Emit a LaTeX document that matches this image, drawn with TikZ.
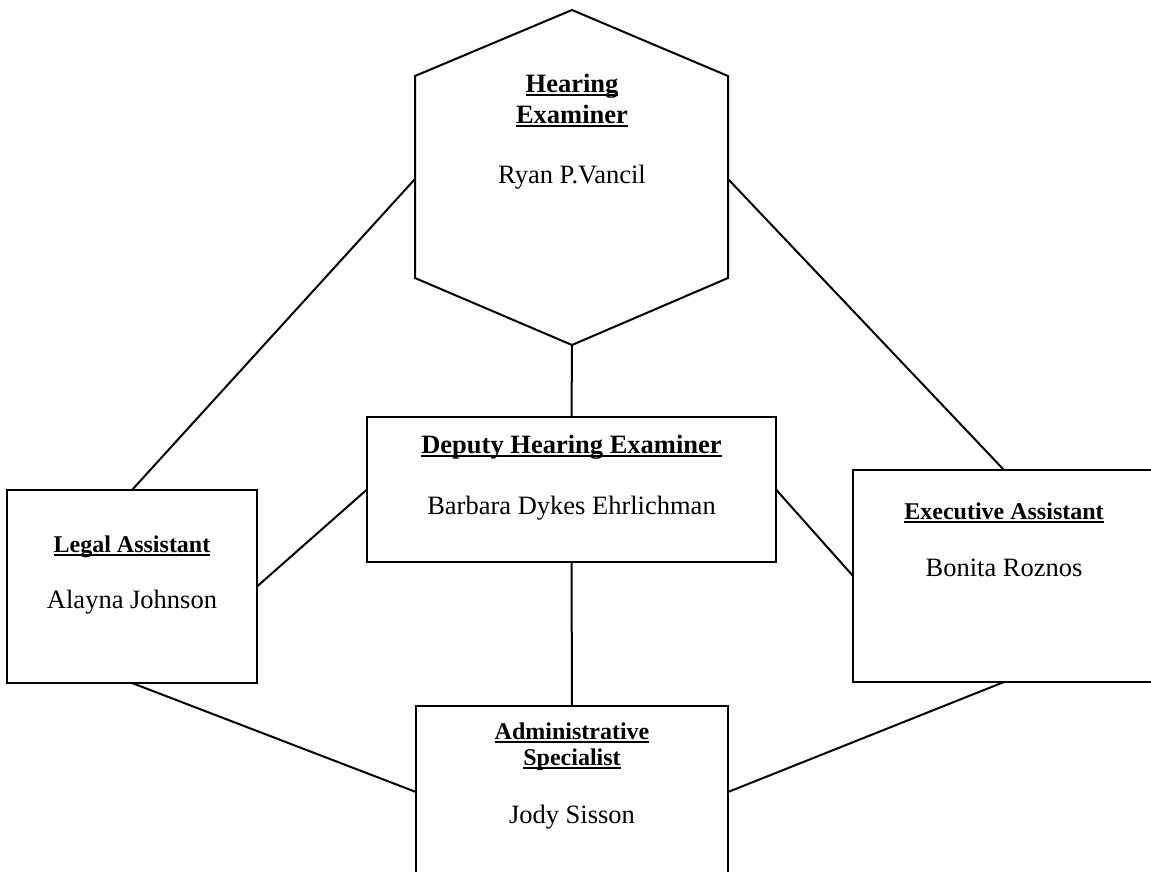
\documentclass[tikz,border=0pt]{standalone}
\usepackage{fontspec}
\setmainfont{Liberation Serif}
\newcommand{\uword}[1]{\setbox0\hbox{#1}\rlap{\rule[-4pt]{\wd0}{2.2pt}}\box0}
\tikzset{
  post/.style={draw, line width=2pt, inner sep=0pt, outer sep=0pt},
  link/.style={line width=2pt},
  title/.style={font=\bfseries\fontsize{24}{26}\selectfont, anchor=base},
  bigtitle/.style={font=\bfseries\fontsize{26.5}{31}\selectfont, anchor=base},
  holder/.style={font=\fontsize{26.5}{31}\selectfont, anchor=base}
}

\begin{document}
\begin{tikzpicture}[x=1pt, y=-1pt]
  \useasboundingbox (0,0) rectangle (1151,871);

  % hexagon
  \coordinate (hexT)  at (572,10);
  \coordinate (hexUR) at (728,76);
  \coordinate (hexLR) at (728,278);
  \coordinate (hexB)  at (572,345);
  \coordinate (hexLL) at (415,278);
  \coordinate (hexUL) at (415,76);
  \coordinate (hexL)  at (415,179);
  \coordinate (hexR)  at (728,179);
  \draw[link, line join=miter] (hexT) -- (hexUR) -- (hexLR) -- (hexB)
       -- (hexLL) -- (hexUL) -- cycle;

  % boxes
  \node[post, minimum width=409, minimum height=145] (deputy) at (571.5,489.5) {};
  \node[post, minimum width=250, minimum height=193] (legal)  at (132,586.5) {};
  \node[post, minimum width=302, minimum height=212] (exec)   at (1004,576) {};
  \node[post, minimum width=312, minimum height=172] (admin)  at (572,792) {};

  % texts
  \node[bigtitle] (hexHead1) at (572,92)  {\uword{Hearing}};
  \node[bigtitle] (hexHead2) at (572,123) {\uword{Examiner}};
  \node[holder]   (hexName)  at (572,183) {Ryan P.Vancil};

  \node[bigtitle] (deputyHead) at (571.5,453) {\uword{Deputy Hearing Examiner}};
  \node[holder]   (deputyName) at (571.5,514) {Barbara Dykes Ehrlichman};

  \node[title]  (legalHead) at (132,552) {\uword{Legal Assistant}};
  \node[holder] (legalName) at (132,608) {Alayna Johnson};

  \node[title]  (execHead) at (1004,519) {\uword{Executive Assistant}};
  \node[holder] (execName) at (1004,576) {Bonita Roznos};

  \node[title]  (adminHead1) at (572,739) {\uword{Administrative}};
  \node[title]  (adminHead2) at (572,765) {\uword{Specialist}};
  \node[holder] (adminName)  at (572,823) {Jody Sisson};

  % connectors
  \draw[link] (hexB) -- (deputy.north);
  \draw[link] (hexL) -- (legal.north);
  \draw[link] (hexR) -- (exec.north);
  \draw[link] (legal.east) -- (deputy.west);
  \draw[link] (deputy.east) -- (exec.west);
  \draw[link] (deputy.south) -- (admin.north);
  \draw[link] (legal.south) -- (admin.west);
  \draw[link] (exec.south) -- (admin.east);
\end{tikzpicture}
\end{document}
